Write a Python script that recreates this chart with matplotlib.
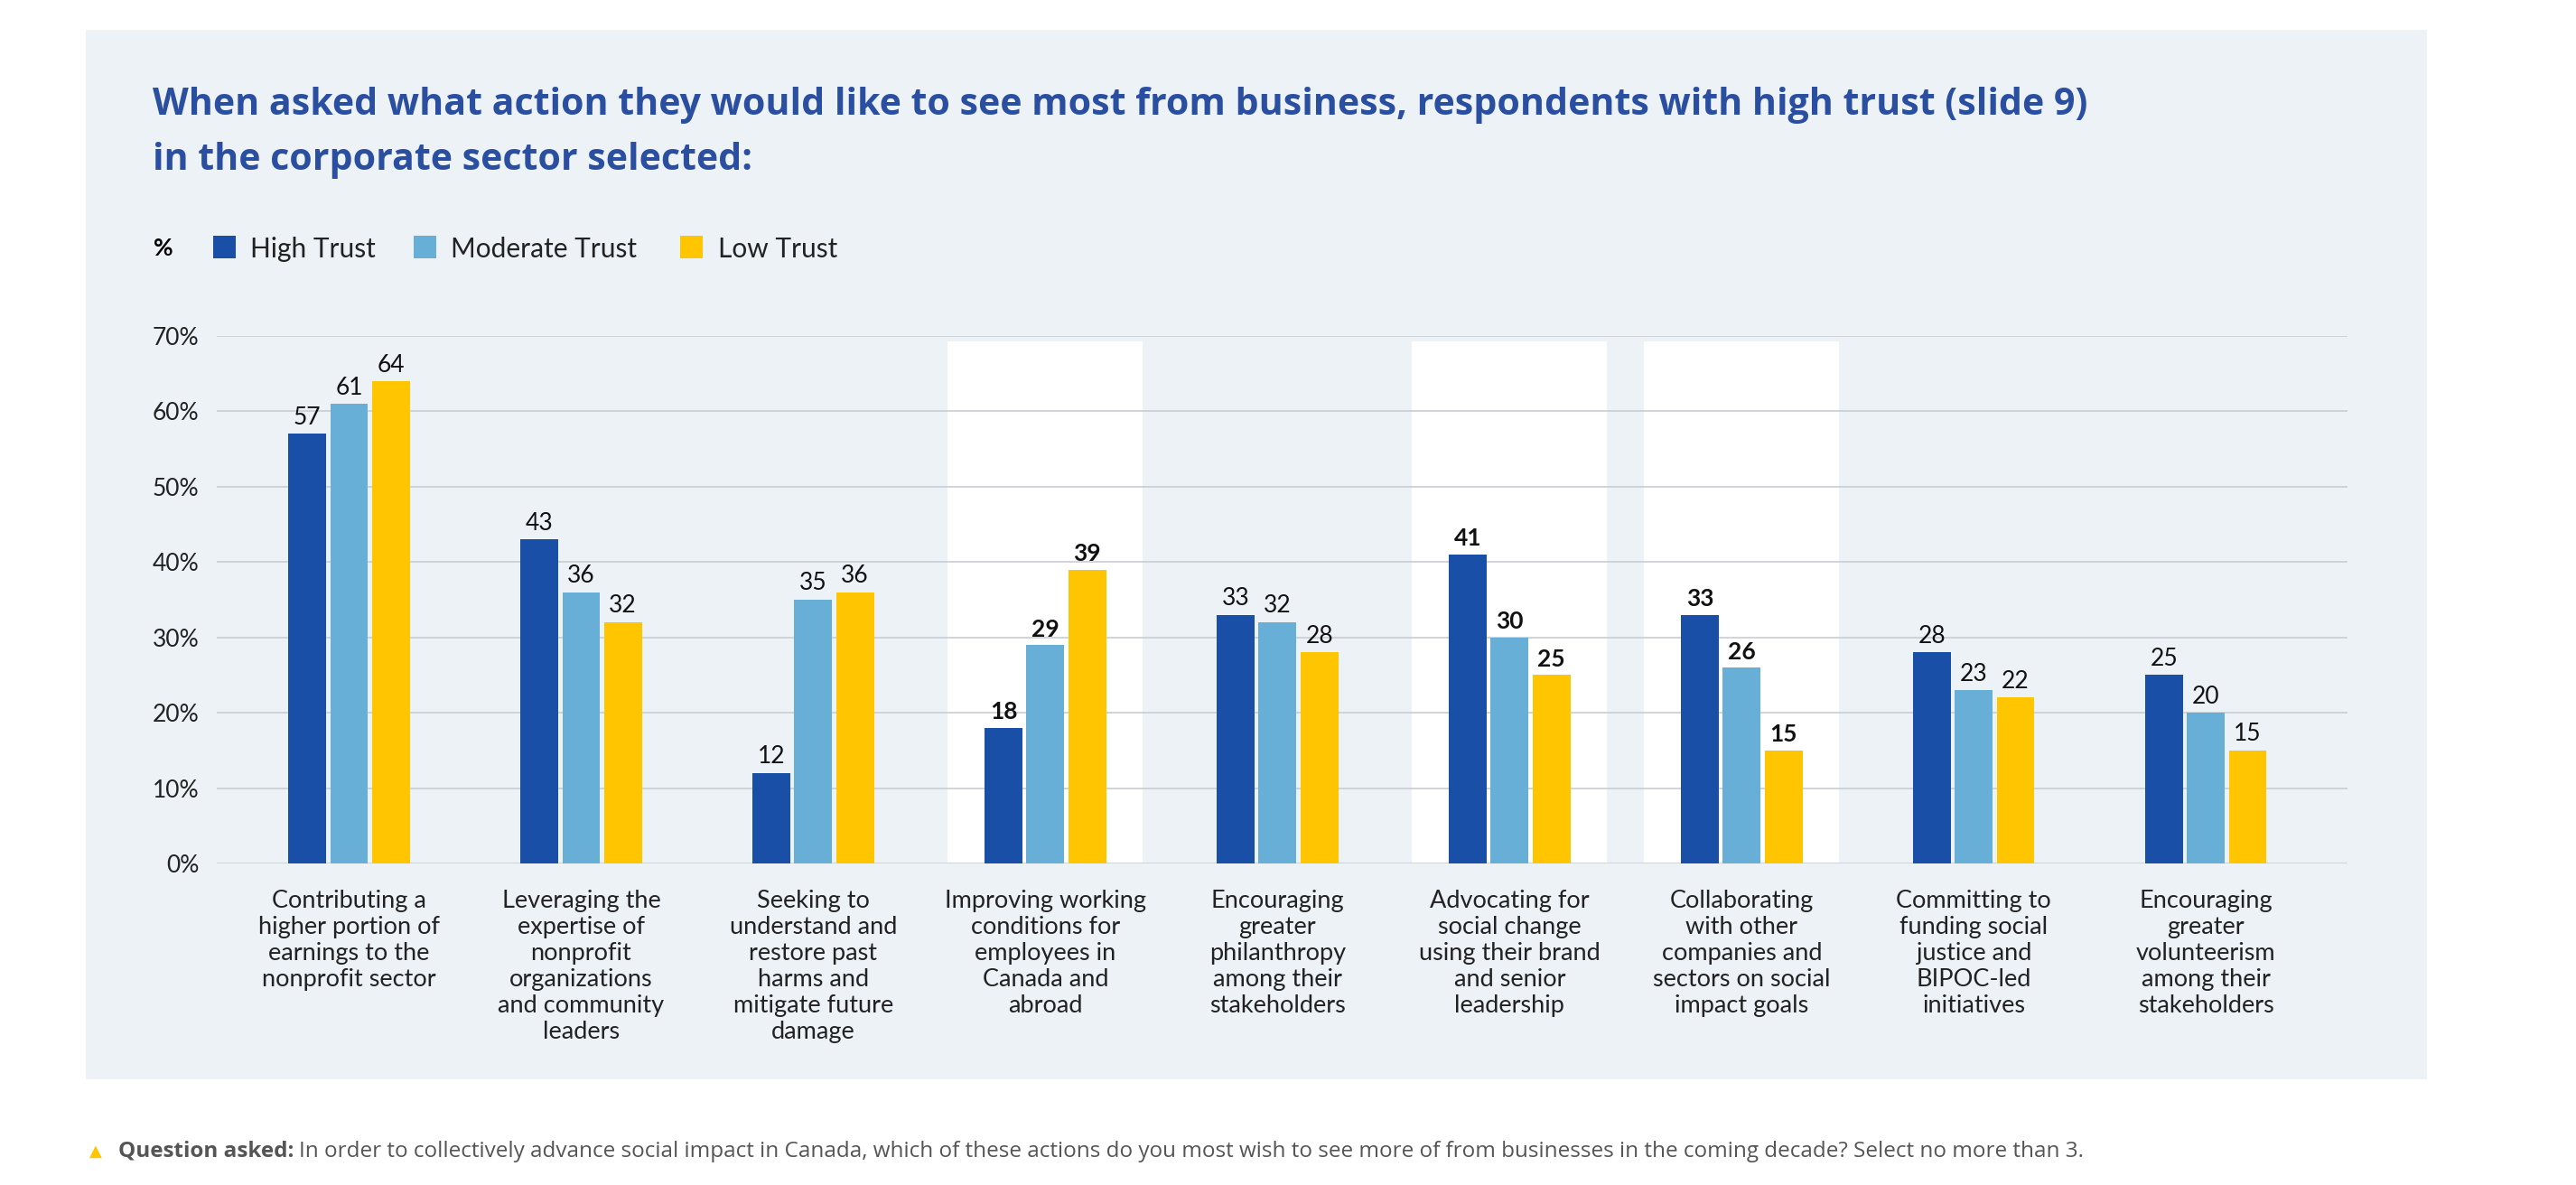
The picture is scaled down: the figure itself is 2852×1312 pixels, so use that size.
import numpy as np
import matplotlib
matplotlib.use('Agg')
import matplotlib.pyplot as plt
from matplotlib.patches import Rectangle

plt.rcParams['font.family'] = ['Lato', 'DejaVu Sans']

# Data
categories = [
    'Contributing a\nhigher portion of\nearnings to the\nnonprofit sector',
    'Leveraging the\nexpertise of\nnonprofit\norganizations\nand community\nleaders',
    'Seeking to\nunderstand and\nrestore past\nharms and\nmitigate future\ndamage',
    'Improving working\nconditions for\nemployees in\nCanada and\nabroad',
    'Encouraging\ngreater\nphilanthropy\namong their\nstakeholders',
    'Advocating for\nsocial change\nusing their brand\nand senior\nleadership',
    'Collaborating\nwith other\ncompanies and\nsectors on social\nimpact goals',
    'Committing to\nfunding social\njustice and\nBIPOC-led\ninitiatives',
    'Encouraging\ngreater\nvolunteerism\namong their\nstakeholders',
]
high_trust = [57, 43, 12, 18, 33, 41, 33, 28, 25]
moderate_trust = [61, 36, 35, 29, 32, 30, 26, 23, 20]
low_trust = [64, 32, 36, 39, 28, 25, 15, 22, 15]
series_names = ['High Trust', 'Moderate Trust', 'Low Trust']
highlighted = [3, 5, 6]
y_ticks = [0, 10, 20, 30, 40, 50, 60, 70]

title_lines = [
    'When asked what action they would like to see most from business, respondents with high trust (slide 9)',
    'in the corporate sector selected:',
]
footnote_bold = 'Question asked:'
footnote_text = ('In order to collectively advance social impact in Canada, which of these actions do you '
                 'most wish to see more of from businesses in the coming decade? Select no more than 3.')

colors = ['#1a4fa8', '#68afd8', '#ffc600']
panel_color = '#edf2f7'
title_color = '#2b4fa0'

W, H = 2852, 1312
fig = plt.figure(figsize=(W / 100, H / 100), dpi=100)

# light panel behind everything
fig.add_artist(Rectangle((95 / W, 117 / H), (2687 - 95) / W, (1195 - 33) / H,
                         transform=fig.transFigure, facecolor=panel_color, edgecolor='none', zorder=0))

ax = fig.add_axes([240 / W, 356 / H, 2359 / W, 584 / H])
ax.set_facecolor('none')

x = np.arange(len(categories))
offsets = [-0.18, 0, 0.18]
width = 0.163

# white columns behind highlighted groups
for i in highlighted:
    ax.add_patch(Rectangle((i - 0.42, 0), 0.84, 69.3, facecolor='white', edgecolor='none', zorder=0.2))

for vals, off, c in zip([high_trust, moderate_trust, low_trust], offsets, colors):
    ax.bar(x + off, vals, width, color=c, zorder=3)
    for i, v in enumerate(vals):
        ax.annotate(str(v), (i + off, v), xytext=(0, 4), textcoords='offset points',
                    ha='center', va='bottom', fontsize=19, color='#111111',
                    fontweight='bold' if i in highlighted else 'normal')

ax.set_xlim(-0.57, 8.61)
ax.set_ylim(0, 70)
ax.set_yticks(y_ticks)
ax.set_yticklabels([f'{t}%' for t in y_ticks])
ax.set_xticks(x)
ax.set_xticklabels(categories, linespacing=1.2)
ax.tick_params(axis='y', length=0, pad=14, labelsize=19, labelcolor='#222222')
ax.tick_params(axis='x', length=0, pad=21, labelsize=19.5, labelcolor='#222222')
ax.yaxis.grid(True, color='#c8cdd4', linewidth=1.2)
ax.set_axisbelow(True)
for s in ax.spines.values():
    s.set_visible(False)

# title
for line, base in zip(title_lines, [127, 188]):
    fig.text(169 / W, 1 - base / H, line, fontsize=29.6, fontweight='bold', color=title_color,
             va='baseline', family=['Open Sans', 'DejaVu Sans'])

# legend
fig.text(170 / W, 1 - 275 / H, '%', fontsize=19, fontweight='bold', va='center')
for sx, tx, c, name in zip([236, 458, 753], [277, 499, 795], colors, series_names):
    fig.add_artist(Rectangle((sx / W, (H - 286) / H), 25 / W, 25 / H, transform=fig.transFigure,
                             facecolor=c, edgecolor='none'))
    fig.text(tx / W, 1 - 276 / H, name, fontsize=21.5, va='center', color='#222222')

# footnote
fig.text(99 / W, 1 - 1275 / H, '\u25B2', fontsize=13, color='#ffc600', va='center')
t1 = fig.text(131 / W, 1 - 1275 / H, footnote_bold, fontsize=17.5, fontweight='bold', color='#555555',
              va='center', family=['Open Sans', 'DejaVu Sans'])
fig.add_artist(matplotlib.text.Annotation(footnote_text, xy=(1, 0.5), xycoords=t1, xytext=(4, 0),
                                          textcoords='offset points', va='center', fontsize=17.5,
                                          color='#555555', family=['Open Sans', 'DejaVu Sans']))

fig.savefig('out.png', dpi=100, facecolor='white')
